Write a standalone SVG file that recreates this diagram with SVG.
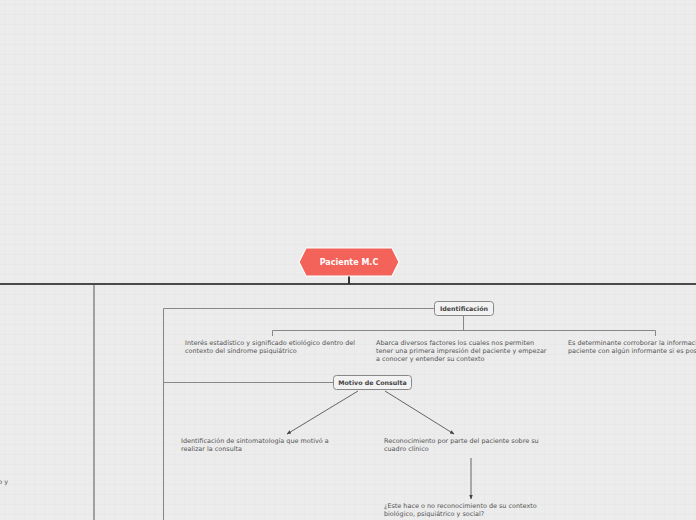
<svg xmlns="http://www.w3.org/2000/svg" width="696" height="520" viewBox="0 0 696 520">
<defs>
<pattern id="grid" x="4" y="4" width="10" height="10" patternUnits="userSpaceOnUse">
<path d="M0 0H10M0 0V10" fill="none" stroke="#e3e3e3" stroke-width="1"/>
</pattern>
<marker id="arr" viewBox="0 0 10 10" refX="9" refY="5" markerWidth="5" markerHeight="5" orient="auto">
<path d="M0 1L10 5L0 9Z" fill="#444"/>
</marker>
<style>
.t{font-family:"DejaVu Sans",Verdana,sans-serif;font-size:6.45px;fill:#555}
.nt{font-family:"DejaVu Sans",Verdana,sans-serif;font-size:6.3px;font-weight:bold;fill:#444;text-anchor:middle}
.nb{fill:#f2f2f2;stroke:#888;stroke-width:1}
.ln{fill:none;stroke:#888;stroke-width:1}
.ar{fill:none;stroke:#555;stroke-width:0.9;marker-end:url(#arr)}
</style>
</defs>
<rect width="696" height="520" fill="#ececec"/>
<rect width="696" height="520" fill="url(#grid)"/>
<g id="connectors">
<path d="M0 284H696" stroke="#4a4a4a" stroke-width="2" fill="none"/>
<path d="M349 276V284" stroke="#333" stroke-width="2" fill="none"/>
<path d="M94 285V520" stroke="#888" stroke-width="1.5" fill="none"/>
<path class="ln" d="M163.5 520V308.5H434"/>
<path class="ln" d="M463.5 315V330.5M272.5 336V330.5H655.5V336"/>
<path class="ln" d="M163.5 382.5H333"/>
<path class="ar" d="M358 391L287 434"/>
<path class="ar" d="M385 391L454 434"/>
<path class="ar" d="M471 458V499"/>
</g>
<g id="root">
<path d="M306 248H392L399 262L392 276H306L299 262Z" fill="#f3635a" stroke="#fff" stroke-width="1.2"/>
<text x="349" y="265" font-family="DejaVu Sans,Verdana,sans-serif" font-size="8" font-weight="bold" fill="#fff" text-anchor="middle">Paciente M.C</text>
</g>
<g id="identificacion">
<rect class="nb" x="434.5" y="301.5" width="59" height="14" rx="3"/>
<text class="nt" x="464" y="310.8">Identificación</text>
</g>
<g id="id-interes">
<text class="t" x="185" y="345">Interés estadístico y significado etiológico dentro del</text>
<text class="t" x="185" y="353">contexto del síndrome psiquiátrico</text>
</g>
<g id="id-abarca">
<text class="t" x="376" y="345">Abarca diversos factores los cuales nos permiten</text>
<text class="t" x="376" y="353">tener una primera impresión del paciente y empezar</text>
<text class="t" x="376" y="361">a conocer y entender su contexto</text>
</g>
<g id="id-determinante">
<text class="t" x="568" y="345">Es determinante corroborar la información del</text>
<text class="t" x="568" y="353">paciente con algún informante si es posible</text>
</g>
<g id="motivo">
<rect class="nb" x="333.5" y="375.5" width="78" height="14" rx="3"/>
<text class="nt" x="372.5" y="384.8">Motivo de Consulta</text>
</g>
<g id="mc-identificacion">
<text class="t" x="181" y="443">Identificación de sintomatología que motivó a</text>
<text class="t" x="181" y="451">realizar la consulta</text>
</g>
<g id="mc-reconocimiento">
<text class="t" x="384" y="443">Reconocimiento por parte del paciente sobre su</text>
<text class="t" x="384" y="451">cuadro clínico</text>
</g>
<g id="mc-pregunta">
<text class="t" x="384" y="508">¿Este hace o no reconocimiento de su contexto</text>
<text class="t" x="384" y="516">biológico, psiquiátrico y social?</text>
</g>
<g id="left-text">
<text class="t" x="8" y="484" text-anchor="end">o y</text>
</g>
</svg>
